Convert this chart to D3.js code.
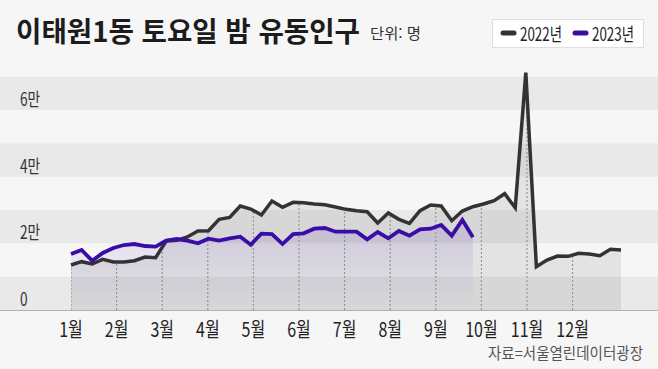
<!DOCTYPE html>
<html lang="ko">
<head>
<meta charset="utf-8">
<script src="https://cdn.jsdelivr.net/npm/d3@7"></script>
<style>
  body { margin: 0; background: #f6f6f6; }
  svg { display: block; font-family: "Noto Sans CJK KR", "Noto Sans", sans-serif; }
</style>
</head>
<body>
<svg id="chart"></svg>
<script>
// weekly saturday-night population
const months = ["1월", "2월", "3월", "4월", "5월", "6월", "7월", "8월", "9월", "10월", "11월", "12월"];
const yTicks = [0, 20000, 40000, 60000];
const yTickLabels = ["0", "2만", "4만", "6만"];
const seriesNames = ["2022년", "2023년"];

const pop2022 = [
  13500, 14500, 13800, 15200, 14400, 14400, 14800, 15900, 15700, 20700,
  20900, 21900, 23700, 23800, 27200, 27800, 31200, 30300, 28500, 32700,
  30800, 32300, 32200, 31800, 31600, 30900, 30200, 29800, 29500, 26100,
  29100, 27200, 26000, 29800, 31500, 31200, 26800, 29700, 31000, 31800,
  32800, 34900, 30700, 71200, 13000, 15000, 16200, 16100, 17000, 16800,
  16300, 18200, 18000
];
const pop2023 = [
  16800, 18000, 14800, 17100, 18600, 19500, 19800, 19200, 19000, 20800,
  21300, 20800, 20000, 21400, 20800, 21500, 22000, 19600, 22900, 22800,
  19800, 22800, 23000, 24400, 24600, 23500, 23500, 23500, 21200, 23400,
  21500, 23700, 22300, 24200, 24400, 25500, 22300, 27000, 21800
];

const width = 658, height = 369;
const colors = { y2022: "#333333", y2023: "#3a0ca8" };

const svg = d3.select("#chart")
  .attr("width", width)
  .attr("height", height);

const x = d3.scaleLinear()
  .domain([0, pop2022.length - 1])
  .range([71, 621]);

const xMonth = d3.scalePoint()
  .domain(months)
  .range([71, 572.6]);

const y = d3.scaleLinear()
  .domain([0, 70000])
  .range([310, 76.7]);

// grey stripes, one per 1만 band starting at every tick
svg.append("g")
  .selectAll("rect")
  .data(yTicks)
  .join("rect")
    .attr("x", 0)
    .attr("width", width)
    .attr("y", d => y(d + 10000))
    .attr("height", d => y(d) - y(d + 10000))
    .attr("fill", "#e9e9e9");

const defs = svg.append("defs");

const grad = defs.append("linearGradient")
  .attr("id", "fill23")
  .attr("x1", 0).attr("x2", 0).attr("y1", 0).attr("y2", 1);
grad.append("stop").attr("offset", "0%").attr("stop-color", colors.y2023).attr("stop-opacity", 0.13);
grad.append("stop").attr("offset", "100%").attr("stop-color", colors.y2023).attr("stop-opacity", 0);

const area = d3.area()
  .x((d, i) => x(i))
  .y0(y(0))
  .y1(d => y(d));

const line = d3.line()
  .x((d, i) => x(i))
  .y(d => y(d));

defs.append("clipPath")
  .attr("id", "clip22")
  .append("path")
  .attr("d", area(pop2022));

svg.append("path")
  .attr("d", area(pop2022))
  .attr("fill", "#000")
  .attr("fill-opacity", 0.075);

svg.append("path")
  .attr("d", area(pop2023))
  .attr("fill", "url(#fill23)");

// dashed month guides, only inside the 2022 area
svg.append("g")
  .attr("clip-path", "url(#clip22)")
  .selectAll("line")
  .data(months)
  .join("line")
    .attr("x1", d => xMonth(d))
    .attr("x2", d => xMonth(d))
    .attr("y1", y(0))
    .attr("y2", 60)
    .attr("stroke", "#8a8a8a")
    .attr("stroke-width", 1)
    .attr("stroke-dasharray", "2,2");

svg.append("line")
  .attr("x1", 0).attr("x2", width)
  .attr("y1", y(0) + 0.5).attr("y2", y(0) + 0.5)
  .attr("stroke", "#b0b0b0");

svg.append("path")
  .attr("d", line(pop2022))
  .attr("fill", "none")
  .attr("stroke", colors.y2022)
  .attr("stroke-width", 3.5);

svg.append("path")
  .attr("d", line(pop2023))
  .attr("fill", "none")
  .attr("stroke", colors.y2023)
  .attr("stroke-width", 3.8);

// y labels sit just above their value
svg.append("g")
  .selectAll("text")
  .data(yTicks)
  .join("text")
    .attr("transform", d => `translate(20,${y(d) - 4}) scale(0.76,1)`)
    .attr("font-size", 18)
    .attr("fill", "#333")
    .text((d, i) => yTickLabels[i]);

svg.append("g")
  .selectAll("text")
  .data(months)
  .join("text")
    .attr("transform", d => `translate(${xMonth(d)},337) scale(0.8,1)`)
    .attr("text-anchor", "middle")
    .attr("font-size", 20)
    .attr("fill", "#222")
    .text(d => d);

// title
svg.append("text")
  .attr("x", 16).attr("y", 42)
  .attr("font-size", 28)
  .attr("font-weight", 700)
  .attr("fill", "#1c1c1c")
  .attr("textLength", 344)
  .attr("lengthAdjust", "spacingAndGlyphs")
  .text("이태원1동 토요일 밤 유동인구");

svg.append("text")
  .attr("x", 370).attr("y", 39)
  .attr("font-size", 15)
  .attr("fill", "#333")
  .attr("textLength", 51)
  .attr("lengthAdjust", "spacingAndGlyphs")
  .text("단위: 명");

// legend
const legend = svg.append("g");
legend.append("rect")
  .attr("x", 492.5).attr("y", 19.5)
  .attr("width", 151).attr("height", 28)
  .attr("fill", "#fff")
  .attr("stroke", "#dedede");

const legendX = [501, 573];
const legendColors = [colors.y2022, colors.y2023];
legend.selectAll("line")
  .data(seriesNames)
  .join("line")
    .attr("x1", (d, i) => legendX[i] + 2)
    .attr("x2", (d, i) => legendX[i] + 13)
    .attr("y1", 33).attr("y2", 33)
    .attr("stroke", (d, i) => legendColors[i])
    .attr("stroke-width", 5)
    .attr("stroke-linecap", "round");
legend.selectAll("text")
  .data(seriesNames)
  .join("text")
    .attr("x", (d, i) => legendX[i] + 19)
    .attr("y", 40.5)
    .attr("font-size", 18)
    .attr("fill", "#222")
    .attr("textLength", 42)
    .attr("lengthAdjust", "spacingAndGlyphs")
    .text(d => d);

svg.append("text")
  .attr("x", 643).attr("y", 359)
  .attr("text-anchor", "end")
  .attr("font-size", 16)
  .attr("fill", "#555")
  .attr("textLength", 155)
  .attr("lengthAdjust", "spacingAndGlyphs")
  .text("자료=서울열린데이터광장");
</script>
</body>
</html>
